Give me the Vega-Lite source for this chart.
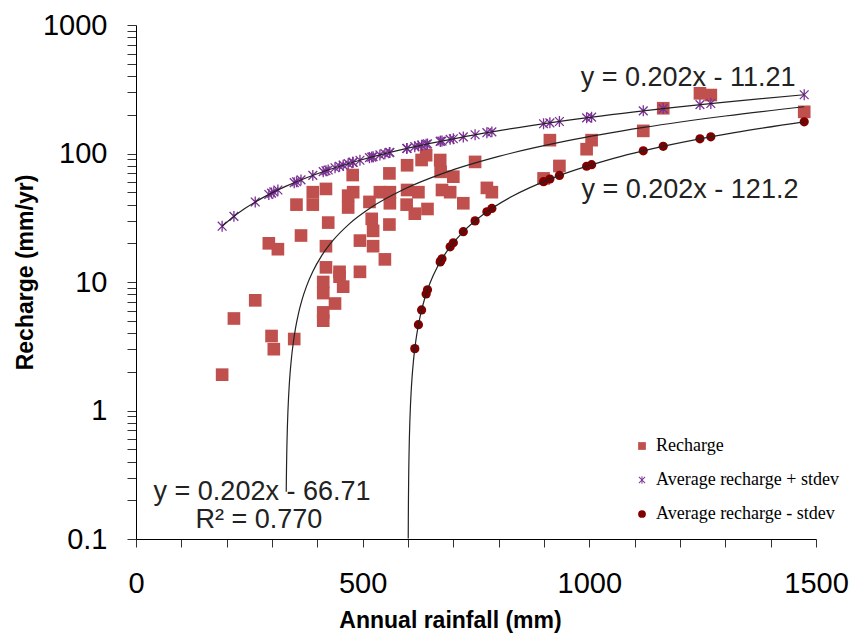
{
  "$schema": "https://vega.github.io/schema/vega-lite/v6.json",
  "width": 680,
  "height": 514,
  "autosize": {"type": "none"},
  "padding": {"left": 136, "top": 25, "right": 44, "bottom": 99},
  "background": "white",
  "config": {
    "view": {"stroke": null},
    "axis": {"grid": false, "domainColor": "#000", "domainWidth": 1, "tickColor": "#333", "tickWidth": 1, "labelFont": "Liberation Sans", "labelFontSize": 29, "labelColor": "#000", "titleFont": "Liberation Sans", "titleFontSize": 23, "titleFontWeight": "bold", "titleColor": "#000"}
  },
  "datasets": {
    "points": [
      {"rainfall":190,"recharge":1.9,"series":"Recharge"},
      {"rainfall":216,"recharge":5.2,"series":"Recharge"},
      {"rainfall":263,"recharge":7.2,"series":"Recharge"},
      {"rainfall":293,"recharge":20,"series":"Recharge"},
      {"rainfall":299,"recharge":3.8,"series":"Recharge"},
      {"rainfall":304,"recharge":3.0,"series":"Recharge"},
      {"rainfall":313,"recharge":18,"series":"Recharge"},
      {"rainfall":349,"recharge":3.6,"series":"Recharge"},
      {"rainfall":354,"recharge":40,"series":"Recharge"},
      {"rainfall":364,"recharge":23,"series":"Recharge"},
      {"rainfall":390,"recharge":50,"series":"Recharge"},
      {"rainfall":390,"recharge":40,"series":"Recharge"},
      {"rainfall":413,"recharge":10,"series":"Recharge"},
      {"rainfall":413,"recharge":8.2,"series":"Recharge"},
      {"rainfall":413,"recharge":5.8,"series":"Recharge"},
      {"rainfall":413,"recharge":5.0,"series":"Recharge"},
      {"rainfall":419,"recharge":53,"series":"Recharge"},
      {"rainfall":419,"recharge":19,"series":"Recharge"},
      {"rainfall":419,"recharge":13,"series":"Recharge"},
      {"rainfall":424,"recharge":29,"series":"Recharge"},
      {"rainfall":439,"recharge":6.8,"series":"Recharge"},
      {"rainfall":449,"recharge":12,"series":"Recharge"},
      {"rainfall":449,"recharge":11,"series":"Recharge"},
      {"rainfall":457,"recharge":9.2,"series":"Recharge"},
      {"rainfall":468,"recharge":47,"series":"Recharge"},
      {"rainfall":468,"recharge":38,"series":"Recharge"},
      {"rainfall":478,"recharge":68,"series":"Recharge"},
      {"rainfall":479,"recharge":50,"series":"Recharge"},
      {"rainfall":494,"recharge":21,"series":"Recharge"},
      {"rainfall":494,"recharge":12,"series":"Recharge"},
      {"rainfall":515,"recharge":42,"series":"Recharge"},
      {"rainfall":520,"recharge":31,"series":"Recharge"},
      {"rainfall":523,"recharge":25,"series":"Recharge"},
      {"rainfall":523,"recharge":19,"series":"Recharge"},
      {"rainfall":538,"recharge":50,"series":"Recharge"},
      {"rainfall":549,"recharge":15,"series":"Recharge"},
      {"rainfall":559,"recharge":28,"series":"Recharge"},
      {"rainfall":559,"recharge":70,"series":"Recharge"},
      {"rainfall":560,"recharge":50,"series":"Recharge"},
      {"rainfall":560,"recharge":41,"series":"Recharge"},
      {"rainfall":597,"recharge":40,"series":"Recharge"},
      {"rainfall":598,"recharge":81,"series":"Recharge"},
      {"rainfall":598,"recharge":52,"series":"Recharge"},
      {"rainfall":615,"recharge":34,"series":"Recharge"},
      {"rainfall":623,"recharge":50,"series":"Recharge"},
      {"rainfall":630,"recharge":89,"series":"Recharge"},
      {"rainfall":640,"recharge":97,"series":"Recharge"},
      {"rainfall":643,"recharge":37,"series":"Recharge"},
      {"rainfall":671,"recharge":89,"series":"Recharge"},
      {"rainfall":672,"recharge":72,"series":"Recharge"},
      {"rainfall":675,"recharge":52,"series":"Recharge"},
      {"rainfall":693,"recharge":50,"series":"Recharge"},
      {"rainfall":700,"recharge":66,"series":"Recharge"},
      {"rainfall":722,"recharge":41,"series":"Recharge"},
      {"rainfall":748,"recharge":86,"series":"Recharge"},
      {"rainfall":774,"recharge":54,"series":"Recharge"},
      {"rainfall":785,"recharge":50,"series":"Recharge"},
      {"rainfall":899,"recharge":64,"series":"Recharge"},
      {"rainfall":913,"recharge":127,"series":"Recharge"},
      {"rainfall":934,"recharge":80,"series":"Recharge"},
      {"rainfall":994,"recharge":108,"series":"Recharge"},
      {"rainfall":1005,"recharge":127,"series":"Recharge"},
      {"rainfall":1119,"recharge":150,"series":"Recharge"},
      {"rainfall":1163,"recharge":225,"series":"Recharge"},
      {"rainfall":1244,"recharge":294,"series":"Recharge"},
      {"rainfall":1268,"recharge":285,"series":"Recharge"},
      {"rainfall":1474,"recharge":211,"series":"Recharge"},
      {"rainfall":190,"recharge":27.17,"series":"Average recharge + stdev"},
      {"rainfall":216,"recharge":32.42,"series":"Average recharge + stdev"},
      {"rainfall":263,"recharge":41.92,"series":"Average recharge + stdev"},
      {"rainfall":293,"recharge":47.98,"series":"Average recharge + stdev"},
      {"rainfall":299,"recharge":49.19,"series":"Average recharge + stdev"},
      {"rainfall":304,"recharge":50.20,"series":"Average recharge + stdev"},
      {"rainfall":313,"recharge":52.02,"series":"Average recharge + stdev"},
      {"rainfall":349,"recharge":59.29,"series":"Average recharge + stdev"},
      {"rainfall":354,"recharge":60.30,"series":"Average recharge + stdev"},
      {"rainfall":364,"recharge":62.32,"series":"Average recharge + stdev"},
      {"rainfall":390,"recharge":67.57,"series":"Average recharge + stdev"},
      {"rainfall":413,"recharge":72.22,"series":"Average recharge + stdev"},
      {"rainfall":419,"recharge":73.43,"series":"Average recharge + stdev"},
      {"rainfall":424,"recharge":74.44,"series":"Average recharge + stdev"},
      {"rainfall":439,"recharge":77.47,"series":"Average recharge + stdev"},
      {"rainfall":449,"recharge":79.49,"series":"Average recharge + stdev"},
      {"rainfall":457,"recharge":81.10,"series":"Average recharge + stdev"},
      {"rainfall":468,"recharge":83.33,"series":"Average recharge + stdev"},
      {"rainfall":478,"recharge":85.35,"series":"Average recharge + stdev"},
      {"rainfall":479,"recharge":85.55,"series":"Average recharge + stdev"},
      {"rainfall":494,"recharge":88.58,"series":"Average recharge + stdev"},
      {"rainfall":515,"recharge":92.82,"series":"Average recharge + stdev"},
      {"rainfall":520,"recharge":93.83,"series":"Average recharge + stdev"},
      {"rainfall":523,"recharge":94.44,"series":"Average recharge + stdev"},
      {"rainfall":538,"recharge":97.47,"series":"Average recharge + stdev"},
      {"rainfall":549,"recharge":99.69,"series":"Average recharge + stdev"},
      {"rainfall":559,"recharge":101.71,"series":"Average recharge + stdev"},
      {"rainfall":560,"recharge":101.91,"series":"Average recharge + stdev"},
      {"rainfall":597,"recharge":109.38,"series":"Average recharge + stdev"},
      {"rainfall":598,"recharge":109.59,"series":"Average recharge + stdev"},
      {"rainfall":615,"recharge":113.02,"series":"Average recharge + stdev"},
      {"rainfall":623,"recharge":114.64,"series":"Average recharge + stdev"},
      {"rainfall":630,"recharge":116.05,"series":"Average recharge + stdev"},
      {"rainfall":640,"recharge":118.07,"series":"Average recharge + stdev"},
      {"rainfall":643,"recharge":118.68,"series":"Average recharge + stdev"},
      {"rainfall":671,"recharge":124.33,"series":"Average recharge + stdev"},
      {"rainfall":672,"recharge":124.53,"series":"Average recharge + stdev"},
      {"rainfall":675,"recharge":125.14,"series":"Average recharge + stdev"},
      {"rainfall":693,"recharge":128.78,"series":"Average recharge + stdev"},
      {"rainfall":700,"recharge":130.19,"series":"Average recharge + stdev"},
      {"rainfall":722,"recharge":134.63,"series":"Average recharge + stdev"},
      {"rainfall":748,"recharge":139.89,"series":"Average recharge + stdev"},
      {"rainfall":774,"recharge":145.14,"series":"Average recharge + stdev"},
      {"rainfall":785,"recharge":147.36,"series":"Average recharge + stdev"},
      {"rainfall":899,"recharge":170.39,"series":"Average recharge + stdev"},
      {"rainfall":913,"recharge":173.22,"series":"Average recharge + stdev"},
      {"rainfall":934,"recharge":177.46,"series":"Average recharge + stdev"},
      {"rainfall":994,"recharge":189.58,"series":"Average recharge + stdev"},
      {"rainfall":1005,"recharge":191.80,"series":"Average recharge + stdev"},
      {"rainfall":1119,"recharge":214.83,"series":"Average recharge + stdev"},
      {"rainfall":1163,"recharge":223.72,"series":"Average recharge + stdev"},
      {"rainfall":1244,"recharge":240.08,"series":"Average recharge + stdev"},
      {"rainfall":1268,"recharge":244.93,"series":"Average recharge + stdev"},
      {"rainfall":1474,"recharge":286.54,"series":"Average recharge + stdev"},
      {"rainfall":615,"recharge":3.03,"series":"Average recharge - stdev"},
      {"rainfall":623,"recharge":4.65,"series":"Average recharge - stdev"},
      {"rainfall":630,"recharge":6.06,"series":"Average recharge - stdev"},
      {"rainfall":640,"recharge":8.08,"series":"Average recharge - stdev"},
      {"rainfall":643,"recharge":8.69,"series":"Average recharge - stdev"},
      {"rainfall":671,"recharge":14.34,"series":"Average recharge - stdev"},
      {"rainfall":672,"recharge":14.54,"series":"Average recharge - stdev"},
      {"rainfall":675,"recharge":15.15,"series":"Average recharge - stdev"},
      {"rainfall":693,"recharge":18.79,"series":"Average recharge - stdev"},
      {"rainfall":700,"recharge":20.20,"series":"Average recharge - stdev"},
      {"rainfall":722,"recharge":24.64,"series":"Average recharge - stdev"},
      {"rainfall":748,"recharge":29.90,"series":"Average recharge - stdev"},
      {"rainfall":774,"recharge":35.15,"series":"Average recharge - stdev"},
      {"rainfall":785,"recharge":37.37,"series":"Average recharge - stdev"},
      {"rainfall":899,"recharge":60.40,"series":"Average recharge - stdev"},
      {"rainfall":913,"recharge":63.23,"series":"Average recharge - stdev"},
      {"rainfall":934,"recharge":67.47,"series":"Average recharge - stdev"},
      {"rainfall":994,"recharge":79.59,"series":"Average recharge - stdev"},
      {"rainfall":1005,"recharge":81.81,"series":"Average recharge - stdev"},
      {"rainfall":1119,"recharge":104.84,"series":"Average recharge - stdev"},
      {"rainfall":1163,"recharge":113.73,"series":"Average recharge - stdev"},
      {"rainfall":1244,"recharge":130.09,"series":"Average recharge - stdev"},
      {"rainfall":1268,"recharge":134.94,"series":"Average recharge - stdev"},
      {"rainfall":1474,"recharge":176.55,"series":"Average recharge - stdev"}
    ],
    "lines": [
      {"rainfall":190,"recharge":27.17,"line":"plus"},
      {"rainfall":210,"recharge":31.21,"line":"plus"},
      {"rainfall":240,"recharge":37.27,"line":"plus"},
      {"rainfall":280,"recharge":45.35,"line":"plus"},
      {"rainfall":330,"recharge":55.45,"line":"plus"},
      {"rainfall":400,"recharge":69.59,"line":"plus"},
      {"rainfall":490,"recharge":87.77,"line":"plus"},
      {"rainfall":600,"recharge":109.99,"line":"plus"},
      {"rainfall":750,"recharge":140.29,"line":"plus"},
      {"rainfall":920,"recharge":174.63,"line":"plus"},
      {"rainfall":1100,"recharge":210.99,"line":"plus"},
      {"rainfall":1300,"recharge":251.39,"line":"plus"},
      {"rainfall":1474,"recharge":286.54,"line":"plus"},
      {"rainfall":331.4,"recharge":0.233,"line":"fit"},
      {"rainfall":331.7,"recharge":0.293,"line":"fit"},
      {"rainfall":332,"recharge":0.354,"line":"fit"},
      {"rainfall":332.5,"recharge":0.455,"line":"fit"},
      {"rainfall":333,"recharge":0.556,"line":"fit"},
      {"rainfall":334,"recharge":0.758,"line":"fit"},
      {"rainfall":335,"recharge":0.96,"line":"fit"},
      {"rainfall":336.5,"recharge":1.263,"line":"fit"},
      {"rainfall":338,"recharge":1.566,"line":"fit"},
      {"rainfall":340,"recharge":1.97,"line":"fit"},
      {"rainfall":343,"recharge":2.576,"line":"fit"},
      {"rainfall":347,"recharge":3.384,"line":"fit"},
      {"rainfall":352,"recharge":4.394,"line":"fit"},
      {"rainfall":358,"recharge":5.606,"line":"fit"},
      {"rainfall":366,"recharge":7.222,"line":"fit"},
      {"rainfall":376,"recharge":9.242,"line":"fit"},
      {"rainfall":390,"recharge":12.07,"line":"fit"},
      {"rainfall":410,"recharge":16.11,"line":"fit"},
      {"rainfall":435,"recharge":21.16,"line":"fit"},
      {"rainfall":470,"recharge":28.23,"line":"fit"},
      {"rainfall":520,"recharge":38.33,"line":"fit"},
      {"rainfall":590,"recharge":52.47,"line":"fit"},
      {"rainfall":680,"recharge":70.65,"line":"fit"},
      {"rainfall":800,"recharge":94.89,"line":"fit"},
      {"rainfall":950,"recharge":125.19,"line":"fit"},
      {"rainfall":1120,"recharge":159.53,"line":"fit"},
      {"rainfall":1300,"recharge":195.89,"line":"fit"},
      {"rainfall":1474,"recharge":231.04,"line":"fit"},
      {"rainfall":600.5,"recharge":0.101,"line":"minus"},
      {"rainfall":600.7,"recharge":0.141,"line":"minus"},
      {"rainfall":601,"recharge":0.202,"line":"minus"},
      {"rainfall":601.5,"recharge":0.303,"line":"minus"},
      {"rainfall":602,"recharge":0.404,"line":"minus"},
      {"rainfall":603,"recharge":0.606,"line":"minus"},
      {"rainfall":604,"recharge":0.808,"line":"minus"},
      {"rainfall":605.5,"recharge":1.111,"line":"minus"},
      {"rainfall":607,"recharge":1.414,"line":"minus"},
      {"rainfall":609,"recharge":1.818,"line":"minus"},
      {"rainfall":612,"recharge":2.424,"line":"minus"},
      {"rainfall":616,"recharge":3.232,"line":"minus"},
      {"rainfall":621,"recharge":4.242,"line":"minus"},
      {"rainfall":628,"recharge":5.656,"line":"minus"},
      {"rainfall":637,"recharge":7.474,"line":"minus"},
      {"rainfall":649,"recharge":9.898,"line":"minus"},
      {"rainfall":665,"recharge":13.13,"line":"minus"},
      {"rainfall":688,"recharge":17.776,"line":"minus"},
      {"rainfall":720,"recharge":24.24,"line":"minus"},
      {"rainfall":765,"recharge":33.33,"line":"minus"},
      {"rainfall":830,"recharge":46.46,"line":"minus"},
      {"rainfall":920,"recharge":64.64,"line":"minus"},
      {"rainfall":1040,"recharge":88.88,"line":"minus"},
      {"rainfall":1180,"recharge":117.16,"line":"minus"},
      {"rainfall":1320,"recharge":145.44,"line":"minus"},
      {"rainfall":1474,"recharge":176.55,"line":"minus"}
    ],
    "labels": [
      {"rainfall":1218,"recharge":387,"text":"y = 0.202x - 11.21"},
      {"rainfall":1222,"recharge":52,"text":"y = 0.202x - 121.2"},
      {"rainfall":278,"recharge":0.232,"text":"y = 0.202x - 66.71"},
      {"rainfall":271,"recharge":0.1406,"text":"R² = 0.770"}
    ]
  },
  "layer": [
    {
      "data": {"name": "points"},
      "mark": {"type": "point", "filled": true, "opacity": 1},
      "encoding": {
        "x": {
          "field": "rainfall", "type": "quantitative",
          "scale": {"domain": [0, 1500], "nice": false, "zero": false},
          "axis": {
            "values": [0,100,200,300,400,500,600,700,800,900,1000,1100,1200,1300,1400,1500],
            "format": "d",
            "labelExpr": "datum.value % 500 === 0 ? datum.label : ''",
            "tickSize": 8, "labelPadding": 22, "labelOverlap": false, "labelFlush": false, "labelBound": false,
            "title": "Annual rainfall (mm)", "titleX": 314, "titleY": 88, "titleBaseline": "alphabetic", "titleAlign": "center"
          }
        },
        "y": {
          "field": "recharge", "type": "quantitative",
          "scale": {"type": "log", "domain": [0.1, 1000], "nice": false},
          "axis": {
            "values": [0.1,0.2,0.3,0.4,0.5,0.6,0.7,0.8,0.9,1,2,3,4,5,6,7,8,9,10,20,30,40,50,60,70,80,90,100,200,300,400,500,600,700,800,900,1000],
            "labelExpr": "datum.value == 0.1 ? '0.1' : datum.value == 1 ? '1' : datum.value == 10 ? '10' : datum.value == 100 ? '100' : datum.value == 1000 ? '1000' : ''",
            "tickSize": 9, "labelPadding": 20, "labelOverlap": false, "labelFlush": false, "labelBound": false,
            "title": "Recharge (mm/yr)", "titleX": -104, "titleY": 247, "titleBaseline": "alphabetic", "titleAlign": "center", "titleAngle": -90
          }
        },
        "color": {
          "field": "series", "type": "nominal",
          "scale": {"domain": ["Recharge", "Average recharge + stdev", "Average recharge - stdev"], "range": ["#c0504d", "#7b3294", "#800000"]},
          "legend": {"title": null, "orient": "none", "legendX": 497, "legendY": 412, "labelFont": "Liberation Serif", "labelFontSize": 18, "labelColor": "#000", "labelLimit": 400, "symbolSize": 60, "rowPadding": 16, "labelOffset": 5, "padding": 0}
        },
        "shape": {
          "field": "series", "type": "nominal",
          "scale": {"domain": ["Recharge", "Average recharge + stdev", "Average recharge - stdev"], "range": ["square", "M-0.12,-1L0.12,-1L0.12,1L-0.12,1Z M-0.715,-0.885L0.885,0.715L0.715,0.885L-0.885,-0.715Z M-0.885,0.715L0.715,-0.885L0.885,-0.715L-0.715,0.885Z", "circle"]},
          "legend": {"title": null, "orient": "none", "legendX": 497, "legendY": 412, "labelFont": "Liberation Serif", "labelFontSize": 18, "labelColor": "#000", "labelLimit": 400, "symbolSize": 60, "rowPadding": 16, "labelOffset": 5, "padding": 0}
        },
        "size": {
          "condition": [
            {"test": "datum.series === 'Recharge'", "value": 160},
            {"test": "datum.series === 'Average recharge + stdev'", "value": 120}
          ],
          "value": 85
        }
      }
    },
    {
      "data": {"name": "lines"},
      "mark": {"type": "line", "color": "#222", "strokeWidth": 1.2, "interpolate": "monotone", "clip": true},
      "encoding": {
        "x": {"field": "rainfall", "type": "quantitative"},
        "y": {"field": "recharge", "type": "quantitative"},
        "detail": {"field": "line", "type": "nominal"}
      }
    },
    {
      "data": {"name": "labels"},
      "mark": {"type": "text", "font": "Liberation Sans", "fontSize": 27, "color": "#222", "align": "center", "baseline": "middle"},
      "encoding": {
        "x": {"field": "rainfall", "type": "quantitative"},
        "y": {"field": "recharge", "type": "quantitative"},
        "text": {"field": "text", "type": "nominal"}
      }
    }
  ]
}
